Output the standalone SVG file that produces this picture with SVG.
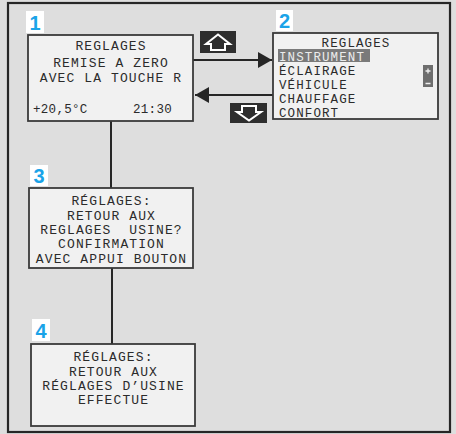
<svg xmlns="http://www.w3.org/2000/svg" width="456" height="434" viewBox="0 0 456 434">
<defs>
<style>
.bg{fill:#dedede}
.frame{fill:none;stroke:#262626;stroke-width:2.2}
.box{fill:#f1f1f1;stroke:#3a3a3a;stroke-width:1.8}
.lcd{font-family:"Liberation Mono","DejaVu Sans Mono",monospace;font-size:13px;letter-spacing:1.1px;fill:#2b2b2b;white-space:pre}
.menu{font-size:12.5px;letter-spacing:1.1px}
.mid{text-anchor:middle}
.small{font-size:12.5px;letter-spacing:0.3px}
.tag{fill:#ffffff}
.num{font-family:"Liberation Sans","DejaVu Sans",sans-serif;font-weight:bold;font-size:20px;fill:#1aa3e8;text-anchor:middle}
.line{stroke:#262626;stroke-width:2;fill:none}
.icon{fill:#2e2e2e}
.iconArrow{fill:none;stroke:#ffffff;stroke-width:2;stroke-linejoin:miter}
</style>
<marker id="ah" viewBox="0 0 14 16" refX="14" refY="8" markerWidth="14" markerHeight="16" markerUnits="userSpaceOnUse" orient="auto">
<polygon points="0,0 14,8 0,16" fill="#262626"/>
</marker>
</defs>
<rect class="bg" x="0" y="0" width="456" height="434"/>
<rect class="frame" x="8" y="3" width="442" height="429"/>

<g id="connectors">
<line class="line" x1="193" y1="60" x2="272" y2="60" marker-end="url(#ah)"/>
<line class="line" x1="273" y1="95" x2="195" y2="95" marker-end="url(#ah)"/>
<line class="line" x1="111" y1="121" x2="111" y2="188"/>
<line class="line" x1="112" y1="268" x2="112" y2="344"/>
</g>

<g id="icon-up">
<rect class="icon" x="200" y="31" width="36" height="22"/>
<polygon class="iconArrow" points="218,34.5 230,44 225,44 225,50 211,50 211,44 206,44"/>
</g>
<g id="icon-down">
<rect class="icon" x="230" y="103" width="37" height="20"/>
<polygon class="iconArrow" points="242,106 256,106 256,112 261,112 249,120.5 237,112 242,112"/>
</g>

<g id="node1">
<rect class="box" x="28" y="35" width="165" height="86"/>
<rect class="tag" x="26" y="11" width="18" height="22"/>
<text class="num" x="35" y="30">1</text>
<text class="lcd mid" x="111" y="50">REGLAGES</text>
<text class="lcd mid" x="111" y="67">REMISE A ZERO</text>
<text class="lcd mid" x="111" y="82">AVEC LA TOUCHE R</text>
<text class="lcd small" x="33" y="113">+20,5°C</text>
<text class="lcd small" x="172" y="113" text-anchor="end">21:30</text>
</g>

<g id="node2">
<rect class="box" x="273" y="33" width="165" height="86"/>
<rect class="tag" x="276" y="10" width="17" height="21"/>
<text class="num" x="284.5" y="28">2</text>
<text class="lcd menu mid" x="356" y="47">REGLAGES</text>
<rect x="278" y="49" width="92" height="13" fill="#7a7a7a"/>
<text class="lcd menu" x="279" y="60.5" style="fill:#ececec">INSTRUMENT</text>
<text class="lcd menu" x="279" y="74.5">ÉCLAIRAGE</text>
<text class="lcd menu" x="279" y="88.5">VÉHICULE</text>
<text class="lcd menu" x="279" y="102.5">CHAUFFAGE</text>
<text class="lcd menu" x="279" y="116.5">CONFORT</text>
<rect x="423" y="65" width="10" height="22" fill="#6e6e6e"/>
<path d="M428,68.5 V73.5 M425.5,71 H430.5 M425.5,83.5 H430.5" stroke="#f0f0f0" stroke-width="1.3" fill="none"/>
</g>

<g id="node3">
<rect class="box" x="29" y="188" width="164" height="80"/>
<rect class="tag" x="30" y="165" width="18" height="21"/>
<text class="num" x="39" y="183">3</text>
<text class="lcd mid" x="111.5" y="205">RÉGLAGES:</text>
<text class="lcd mid" x="111.5" y="220">RETOUR AUX</text>
<text class="lcd mid" x="111.5" y="234" xml:space="preserve">REGLAGES  USINE?</text>
<text class="lcd mid" x="111.5" y="248">CONFIRMATION</text>
<text class="lcd mid" x="111.5" y="263">AVEC APPUI BOUTON</text>
</g>

<g id="node4">
<rect class="box" x="31" y="344" width="164" height="82"/>
<rect class="tag" x="32" y="319" width="18" height="22"/>
<text class="num" x="41" y="338">4</text>
<text class="lcd mid" x="113.5" y="361">RÉGLAGES:</text>
<text class="lcd mid" x="113.5" y="376">RETOUR AUX</text>
<text class="lcd mid" x="113.5" y="390">RÉGLAGES D’USINE</text>
<text class="lcd mid" x="113.5" y="404">EFFECTUE</text>
</g>
</svg>
